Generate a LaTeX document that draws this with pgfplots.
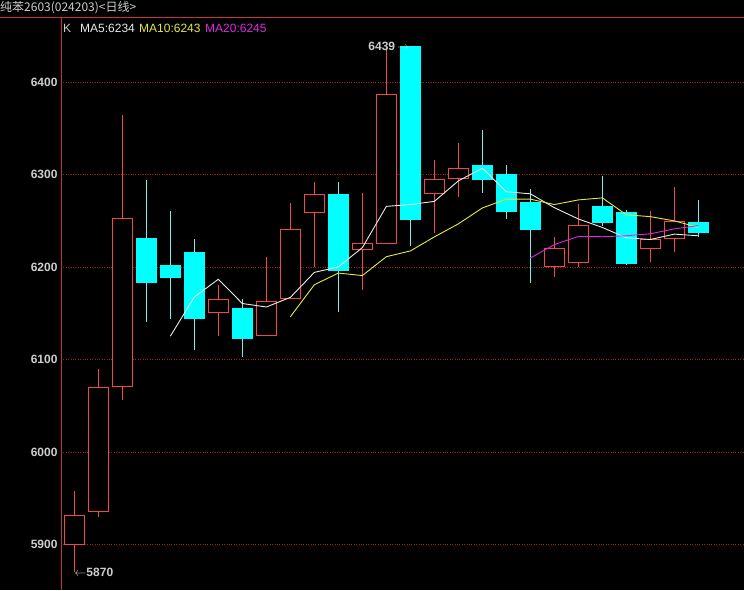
\documentclass[border=0pt]{standalone}
\usepackage{pgfplots}
\pgfplotsset{compat=1.18}
\usepackage{pgfplotstable}
\usepackage{fontspec}
\setmainfont{Liberation Sans}
\newfontfamily\cjk{Noto Sans CJK SC}
\definecolor{kred}{RGB}{240,72,72}
\definecolor{kcyan}{RGB}{0,255,255}
\definecolor{wcyan}{RGB}{110,240,240}
\definecolor{axred}{RGB}{200,50,50}
\definecolor{gridred}{RGB}{170,30,30}
\definecolor{txtgray}{RGB}{205,205,205}
\definecolor{ma5c}{RGB}{235,235,235}
\definecolor{ma10c}{RGB}{232,232,64}
\definecolor{ma20c}{RGB}{222,40,222}

\pgfplotstableread{
x o h l c
1 5900 5958 5870 5932
2 5935 6090 5930 6070
3 6070 6365 6056 6253
7 6151 6181 6126 6166
9 6126 6211 6126 6164
10 6166 6270 6166 6241
11 6259 6292 6200 6279
13 6219 6280 6176 6226
14 6225 6439 6225 6387
16 6279 6316 6237 6296
17 6295 6334 6276 6307
21 6200 6233 6190 6221
22 6205 6268 6200 6246
25 6220 6261 6206 6231
26 6230 6287 6217 6250
}\upk

\pgfplotstableread{
x o h l c
4 6232 6294 6141 6183
5 6202 6261 6144 6189
6 6217 6230 6111 6144
8 6156 6166 6103 6122
12 6279 6292 6152 6196
15 6439 6439 6223 6251
18 6311 6348 6280 6294
19 6301 6311 6252 6260
20 6271 6285 6183 6240
23 6266 6299 6245 6248
24 6260 6262 6202 6204
27 6249 6273 6233 6237
}\downk

\pgfplotstableread{
x y
5 6125.4
6 6167.8
7 6187.0
8 6160.8
9 6157.0
10 6167.4
11 6194.4
12 6200.4
13 6221.2
14 6265.8
15 6267.8
16 6271.2
17 6293.4
18 6307.0
19 6281.6
20 6279.4
21 6264.4
22 6252.2
23 6243.0
24 6231.8
25 6230.0
26 6235.8
27 6234.0
}\maA

\pgfplotstableread{
x y
10 6146.4
11 6181.1
12 6193.7
13 6191.0
14 6211.4
15 6217.6
16 6232.8
17 6246.9
18 6264.1
19 6273.7
20 6273.6
21 6267.8
22 6272.8
23 6275.0
24 6256.7
25 6254.7
26 6250.1
27 6243.1
}\maB

\pgfplotstableread{
x y
20 6210.0
21 6224.5
22 6233.3
23 6233.0
24 6234.0
25 6236.2
26 6241.5
27 6245.0
}\maC

\begin{document}
\begin{tikzpicture}
\useasboundingbox (0,0) rectangle (744pt,590pt);
\fill[black] (0,0) rectangle (744pt,590pt);
\begin{axis}[
  at={(61pt,0pt)}, anchor=south west,
  scale only axis, width=683pt, height=572pt,
  xmin=0.446, xmax=28.9, ymin=5851, ymax=6469.5,
  axis x line=none, axis y line=left,
  y axis line style={-, draw=axred, line width=1pt},
  xtick=\empty,
  ytick={5900,6000,6100,6200,6300,6400},
  major tick length=0pt,
  ymajorgrids,
  grid style={dotted, draw=gridred, line width=0.8pt},
  /pgf/number format/assume math mode=true,
  yticklabel style={font=\bfseries\fontsize{12}{14}\selectfont, text=txtgray, /pgf/number format/1000 sep={}},
  clip=true,
  candle/.style={draw=none, mark=none, forget plot, error bars/y dir=both, error bars/y explicit, error bars/error mark=none},
]
% up candles: wicks
\addplot[candle, error bars/error bar style={draw=kred, line width=1pt}]
  table[x=x, y expr=(\thisrow{h}+\thisrow{l})/2, y error expr=(\thisrow{h}-\thisrow{l})/2] {\upk};
% up candles: red body
\addplot[candle, error bars/error bar style={draw=kred, line width=20.5pt}]
  table[x=x, y expr=(\thisrow{o}+\thisrow{c})/2, y error expr=(\thisrow{c}-\thisrow{o})/2] {\upk};
% up candles: hollow interior
\addplot[candle, error bars/error bar style={draw=black, line width=18.5pt}]
  table[x=x, y expr=(\thisrow{o}+\thisrow{c})/2, y error expr=(\thisrow{c}-\thisrow{o})/2-1.1] {\upk};
% down candles: wicks
\addplot[candle, error bars/error bar style={draw=wcyan, line width=1pt}]
  table[x=x, y expr=(\thisrow{h}+\thisrow{l})/2, y error expr=(\thisrow{h}-\thisrow{l})/2] {\downk};
% down candles: body
\addplot[candle, error bars/error bar style={draw=kcyan, line width=20.5pt}]
  table[x=x, y expr=(\thisrow{o}+\thisrow{c})/2, y error expr=(\thisrow{o}-\thisrow{c})/2] {\downk};
% moving averages
\addplot[ma5c, line width=0.9pt, mark=none] table[x=x,y=y] {\maA};
\addplot[ma10c, line width=0.9pt, mark=none] table[x=x,y=y] {\maB};
\addplot[ma20c, line width=0.9pt, mark=none] table[x=x,y=y] {\maC};
\node[anchor=east, text=txtgray, font=\bfseries\fontsize{12}{14}\selectfont, inner sep=0pt, xshift=-1pt] at (axis cs:15,6439) {6439\,$\rightarrow$};
\node[anchor=west, text=txtgray, font=\bfseries\fontsize{12}{14}\selectfont, inner sep=0pt] at (axis cs:1,5870) {$\leftarrow$5870};
\end{axis}
\draw[axred, line width=1pt] (0,572pt) -- (744pt,572pt);
\node[anchor=west, inner sep=0pt, text=txtgray, font=\cjk\fontsize{12}{14}\selectfont] at (0pt,582pt) {纯苯2603(024203)<日线>};
\node[anchor=west, inner sep=0pt, text=txtgray, font=\fontsize{12}{14}\selectfont] at (63pt,562pt) {K};
\node[anchor=west, inner sep=0pt, text=ma5c, font=\fontsize{12}{14}\selectfont] at (80pt,562pt) {MA5:6234};
\node[anchor=west, inner sep=0pt, text=ma10c, font=\fontsize{12}{14}\selectfont] at (139pt,562pt) {MA10:6243};
\node[anchor=west, inner sep=0pt, text=ma20c, font=\fontsize{12}{14}\selectfont] at (205pt,562pt) {MA20:6245};
\end{tikzpicture}
\end{document}
